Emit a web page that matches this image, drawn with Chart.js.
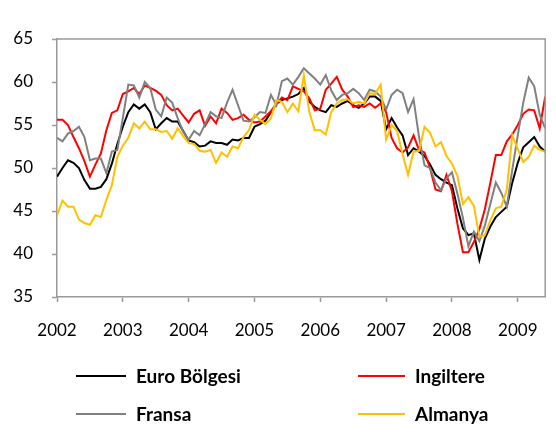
<!DOCTYPE html>
<html>
<head>
<meta charset="utf-8">
<script src="https://cdn.jsdelivr.net/npm/chart.js@4.4.0/dist/chart.umd.min.js"></script>
<style>
  body { margin: 0; background: #fff; }
  #wrap { position: relative; width: 556px; height: 432px; }
  #legend { position: absolute; left: 0; top: 0; width: 556px; height: 432px; pointer-events: none;
            font: bold 19px Lato, "Open Sans", sans-serif; color: #000; }
  .item { position: absolute; height: 22px; }
  .item span.line { position: absolute; top: 10px; height: 0; border-top: 2px solid; }
  .item span.txt { position: absolute; top: 0; line-height: 22px; white-space: nowrap; }
</style>
</head>
<body>
<div id="wrap">
  <canvas id="pmiChart" width="556" height="432"></canvas>
  <div id="legend"></div>
</div>
<script>
// year tick labels, one per 12 monthly points (Jan 2002 - Jun 2009)
var years = ['2002', '2003', '2004', '2005', '2006', '2007', '2008', '2009'];

var euro = [
  49.0, 50.0, 50.9, 50.6, 50.0, 48.6, 47.6, 47.6, 47.8, 48.7, 50.5, 52.8,
  54.8, 56.5, 57.4, 56.9, 57.4, 56.5, 54.5, 55.2, 55.8, 55.4, 55.4, 54.3,
  53.2, 53.0, 52.5, 52.6, 53.1, 52.9, 52.9, 52.7, 53.3, 53.2, 53.5, 53.5,
  54.8, 55.1, 55.5, 56.5, 57.5, 57.9, 58.1, 58.3, 58.6, 59.3, 57.7, 57.1,
  56.7, 56.5, 57.3, 57.1, 57.5, 57.8, 57.3, 57.0, 57.5, 58.3, 58.3, 57.8,
  54.5, 55.8, 54.7, 53.8, 51.5, 52.3, 51.9, 51.4, 50.4, 49.2, 48.7, 48.3,
  48.0, 45.3, 43.0, 42.2, 42.4, 39.3, 41.8, 43.2, 44.3, 44.9, 45.5, 48.3,
  50.6, 52.4, 53.0, 53.6, 52.5, 51.9
];

var ingiltere = [
  55.6, 55.6, 55.0, 53.6, 52.3, 50.8, 49.0, 50.4, 51.7, 54.4, 56.4, 56.7,
  58.6, 58.9, 59.3, 58.6, 59.6, 59.3, 59.0, 58.5, 57.3, 56.7, 56.9, 56.1,
  55.3, 56.3, 56.7, 54.9, 56.0, 55.2, 56.9, 56.4, 55.6, 55.8, 56.2, 55.6,
  55.3, 55.4, 56.0, 56.6, 57.4, 58.2, 57.9, 59.5, 59.2, 58.9, 58.1, 56.7,
  56.9, 59.1, 59.8, 60.6, 59.1, 58.3, 57.1, 57.3, 57.1, 57.5, 57.0, 57.5,
  56.5, 53.5, 52.3, 51.8, 52.4, 53.8, 52.1, 51.8, 50.0, 47.5, 47.3, 49.2,
  47.3, 43.5, 40.2, 40.2, 41.4, 42.9, 45.2, 48.3, 51.5, 51.5, 53.1, 53.9,
  55.0, 56.3, 56.8, 56.7, 54.6, 58.3
];

var fransa = [
  53.5, 53.1, 54.0, 54.3, 54.8, 53.6, 50.9, 51.1, 51.1, 49.4, 51.9, 52.1,
  55.8, 59.7, 59.6, 58.2, 60.0, 59.3, 56.8, 56.0, 58.2, 57.6, 55.8, 54.2,
  53.3, 54.3, 53.8, 55.1, 56.5, 56.0, 55.8, 57.6, 59.1, 57.3, 55.5, 55.4,
  55.9, 56.5, 56.4, 58.5, 57.3, 60.1, 60.4, 59.7, 60.6, 61.6, 61.0, 60.4,
  59.7, 60.8, 59.0, 57.9, 58.5, 58.7, 59.2, 58.7, 57.9, 59.1, 58.9, 58.3,
  56.8, 58.5, 59.1, 58.7, 56.5, 58.0, 53.6, 50.3, 50.0, 48.3, 47.4, 48.8,
  49.5, 47.0, 44.2, 40.9, 42.6, 41.5, 43.3, 45.8, 48.3, 47.1, 45.5, 49.8,
  53.8, 57.6, 60.5, 59.5, 56.2, 54.6
];

var almanya = [
  44.5, 46.2, 45.5, 45.5, 44.0, 43.6, 43.4, 44.5, 44.3, 46.3, 48.0, 51.3,
  52.6, 53.5, 55.2, 54.6, 55.4, 54.5, 54.5, 54.2, 54.3, 53.4, 54.6, 53.7,
  52.9, 52.8, 52.0, 51.9, 52.1, 50.6, 51.8, 51.3, 52.5, 52.3, 53.6, 54.4,
  56.2, 55.6, 55.1, 55.8, 57.9, 57.7, 56.5, 57.5, 56.6, 60.8, 56.5, 54.4,
  54.4, 53.9, 56.5, 57.5, 57.9, 58.0, 57.5, 57.7, 57.5, 58.7, 58.6, 59.7,
  53.3, 55.0, 54.3, 51.6, 49.2, 51.9, 52.0, 54.8, 54.1, 52.5, 53.0, 51.4,
  50.5, 49.1, 45.8, 46.6, 45.6, 42.0, 42.2, 43.9, 45.3, 45.5, 47.5, 53.8,
  52.2, 50.7, 51.3, 52.6, 52.1, 51.9
];

var seriesNames = ['Euro Bölgesi', 'Ingiltere', 'Fransa', 'Almanya'];
var seriesColors = ['#000000', '#ff0000', '#808080', '#ffc000'];
var yTicks = [35, 40, 45, 50, 55, 60, 65];

var axisColor = '#9a9a9a';
var tickFont = { family: 'Lato, "Open Sans", sans-serif', size: 17 };

function toPoints(arr) {
  return arr.map(function (v, i) { return { x: i, y: v }; });
}

// draws the grey top and right edges of the plot area (Excel frame)
var frame = {
  id: 'frame',
  afterDraw: function (chart) {
    var a = chart.chartArea, c = chart.ctx;
    c.save();
    c.strokeStyle = axisColor;
    c.lineWidth = 1.5;
    c.beginPath();
    c.moveTo(a.left, a.top);
    c.lineTo(a.right, a.top);
    c.lineTo(a.right, a.bottom);
    c.stroke();
    c.restore();
  }
};

var allSeries = [euro, ingiltere, fransa, almanya];
var datasets = allSeries.map(function (arr, k) {
  return {
    label: seriesNames[k],
    data: toPoints(arr),
    borderColor: seriesColors[k],
    backgroundColor: seriesColors[k],
    borderWidth: 2,
    pointRadius: 0,
    tension: 0,
    fill: false,
    // later series drawn on top, as Excel does
    order: allSeries.length - k
  };
});

var lastIndex = euro.length - 1;

new Chart(document.getElementById('pmiChart'), {
  type: 'line',
  data: { datasets: datasets },
  options: {
    responsive: false,
    animation: false,
    layout: { padding: { left: 0, right: 9, top: 39, bottom: 90 } },
    plugins: { legend: { display: false }, tooltip: { enabled: false } },
    scales: {
      x: {
        type: 'linear',
        min: 0,
        max: lastIndex,
        afterBuildTicks: function (s) {
          s.ticks = years.map(function (y, i) { return { value: i * 12 }; });
        },
        afterFit: function (s) { s.height = 45; },
        ticks: {
          autoSkip: false,
          maxRotation: 0,
          padding: 18,
          color: '#000',
          font: tickFont,
          callback: function (v) { return years[v / 12]; }
        },
        grid: { drawOnChartArea: false, tickLength: 5, tickColor: axisColor, tickWidth: 1.5 },
        border: { color: axisColor, width: 1.5 }
      },
      y: {
        min: 35,
        max: 65,
        afterBuildTicks: function (s) {
          s.ticks = yTicks.map(function (v) { return { value: v }; });
        },
        afterFit: function (s) { s.width = 57; },
        ticks: { padding: 19, color: '#000', font: tickFont },
        grid: { drawOnChartArea: false, tickLength: 5, tickColor: axisColor, tickWidth: 1.5 },
        border: { color: axisColor, width: 1.5 }
      }
    }
  },
  plugins: [frame]
});

// legend laid out as the 2 x 2 grid of the original
var legendPos = [
  { lineLeft: 76, lineW: 50, textLeft: 136, top: 365 },
  { lineLeft: 358, lineW: 47, textLeft: 415, top: 365 },
  { lineLeft: 76, lineW: 50, textLeft: 136, top: 403 },
  { lineLeft: 358, lineW: 47, textLeft: 415, top: 403 }
];
var legendEl = document.getElementById('legend');
seriesNames.forEach(function (name, k) {
  var p = legendPos[k];
  var item = document.createElement('div');
  item.className = 'item';
  item.style.left = '0px';
  item.style.top = p.top + 'px';
  item.innerHTML = '<span class="line" style="left:' + p.lineLeft + 'px;width:' + p.lineW +
    'px;border-color:' + seriesColors[k] + '"></span><span class="txt" style="left:' +
    p.textLeft + 'px">' + name + '</span>';
  legendEl.appendChild(item);
});
</script>
</body>
</html>
